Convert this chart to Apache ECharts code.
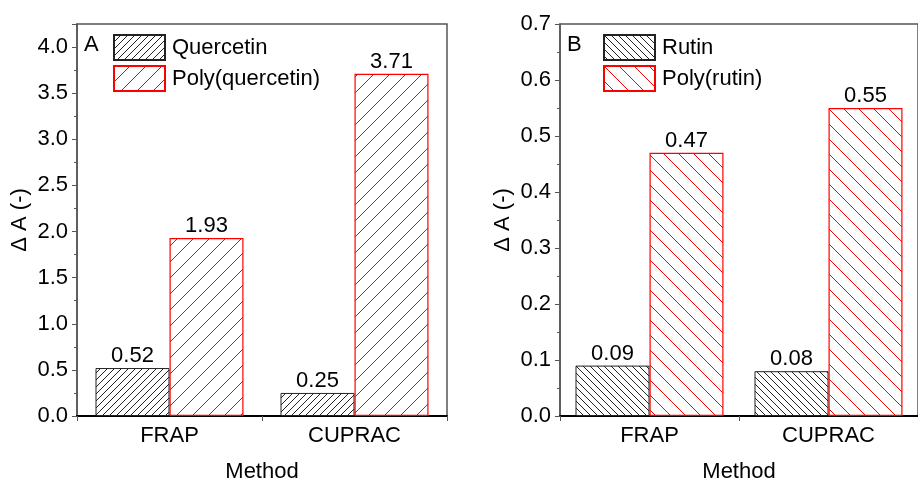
<!DOCTYPE html>
<html>
<head>
<meta charset="utf-8">
<script src="https://cdn.jsdelivr.net/npm/echarts@6/dist/echarts.min.js"></script>
<style>
  html, body { margin: 0; padding: 0; background: #fff; }
  #chart { width: 918px; height: 488px; }
</style>
</head>
<body>
<div id="chart"></div>
<script>
// data
const methods = ['FRAP', 'CUPRAC'];
const quercetin = [0.52, 0.25];
const polyQuercetin = [1.93, 3.71];
const rutin = [0.09, 0.08];
const polyRutin = [0.47, 0.55];

const FONT = '"Liberation Sans", Arial, sans-serif';
const FS = 22;

// hatch fill as a canvas pattern, dir 1 = '/', -1 = '\'
function hatch(color, step, dir) {
  const c = document.createElement('canvas');
  c.width = c.height = step;
  const ctx = c.getContext('2d');
  ctx.strokeStyle = color;
  ctx.lineWidth = 1;
  ctx.beginPath();
  if (dir > 0) {
    ctx.moveTo(0, step); ctx.lineTo(step, 0);
    ctx.moveTo(-1, 1); ctx.lineTo(1, -1);
    ctx.moveTo(step - 1, step + 1); ctx.lineTo(step + 1, step - 1);
  } else {
    ctx.moveTo(0, 0); ctx.lineTo(step, step);
    ctx.moveTo(step - 1, -1); ctx.lineTo(step + 1, 1);
    ctx.moveTo(-1, step - 1); ctx.lineTo(1, step + 1);
  }
  ctx.stroke();
  return { image: c, repeat: 'repeat' };
}

function yAxis(idx, max, interval) {
  return {
    type: 'value', gridIndex: idx, min: 0, max: max, interval: interval,
    name: 'Δ A (-)', nameLocation: 'middle', nameGap: 46,
    nameTextStyle: { fontFamily: FONT, fontSize: FS, color: '#000' },
    axisLine: { show: true, lineStyle: { color: '#555', width: 1.5 } },
    axisTick: { show: true, inside: false, length: 5, lineStyle: { color: '#555' } },
    minorTick: { show: true, splitNumber: 2, length: 3, lineStyle: { color: '#555' } },
    splitLine: { show: false },
    axisLabel: {
      fontFamily: FONT, fontSize: FS, color: '#000', margin: 9,
      showMaxLabel: Math.abs(max / interval - Math.round(max / interval)) < 1e-6,
      formatter: v => v.toFixed(1)
    }
  };
}

function xAxis(idx) {
  return {
    type: 'category', gridIndex: idx, data: methods,
    name: 'Method', nameLocation: 'middle', nameGap: 45,
    nameTextStyle: { fontFamily: FONT, fontSize: FS, color: '#000' },
    axisLine: { lineStyle: { color: '#000', width: 2 } },
    axisTick: { show: true, length: 5, lineStyle: { color: '#555' } },
    axisLabel: { fontFamily: FONT, fontSize: FS, color: '#000', margin: 9 }
  };
}

function bar(name, data, idx, color, border, bw) {
  return {
    name: name, type: 'bar', data: data,
    xAxisIndex: idx, yAxisIndex: idx,
    barWidth: 74, barGap: '0%',
    itemStyle: { color: color, borderColor: border, borderWidth: bw },
    label: {
      show: true, position: 'top', distance: 1,
      fontFamily: FONT, fontSize: FS, color: '#000',
      formatter: p => p.value.toFixed(2)
    }
  };
}

function legend(left, names) {
  return {
    left: left, top: 29, orient: 'vertical',
    itemWidth: 51, itemHeight: 25, itemGap: 4,
    icon: 'rect',
    data: names,
    selectedMode: false,
    textStyle: { fontFamily: FONT, fontSize: FS, color: '#000', padding: [0, 0, 0, 2] }
  };
}

const chart = echarts.init(document.getElementById('chart'));
chart.setOption({
  backgroundColor: '#fff',
  animation: false,
  grid: [
    { left: 77, top: 24, width: 370, height: 399, show: true, borderColor: '#555', borderWidth: 1.5 },
    { left: 560, top: 24, width: 372, height: 399, show: true, borderColor: '#555', borderWidth: 1.5 }
  ],
  xAxis: [xAxis(0), xAxis(1)],
  yAxis: [yAxis(0, 4.25, 0.5), yAxis(1, 0.7, 0.1)],
  legend: [
    legend(108, ['Quercetin', 'Poly(quercetin)']),
    legend(598, ['Rutin', 'Poly(rutin)'])
  ],
  graphic: [
    { type: 'text', left: 84, top: 34, style: { text: 'A', fontFamily: FONT, fontSize: FS, fill: '#000' } },
    { type: 'text', left: 567, top: 34, style: { text: 'B', fontFamily: FONT, fontSize: FS, fill: '#000' } }
  ],
  series: [
    bar('Quercetin', quercetin, 0, hatch('#222', 7, 1), '#222', 1),
    bar('Poly(quercetin)', polyQuercetin, 0, hatch('#ff0000', 16, 1), '#ff0000', 1.2),
    bar('Rutin', rutin, 1, hatch('#222', 7, -1), '#222', 1),
    bar('Poly(rutin)', polyRutin, 1, hatch('#ff0000', 15, -1), '#ff0000', 1.2)
  ]
});
</script>
</body>
</html>
